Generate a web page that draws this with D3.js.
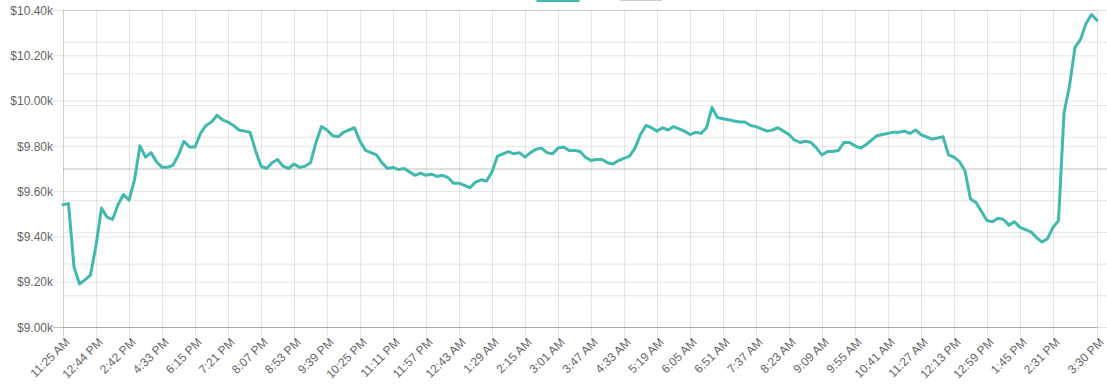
<!DOCTYPE html>
<html>
<head>
<meta charset="utf-8">
<script src="https://cdn.jsdelivr.net/npm/d3@7/dist/d3.min.js"></script>
<style>
    body { margin: 0; background: #fff; }
    #chart { width: 1107px; height: 386px; overflow: hidden; }
    #chart text { font-family: "Helvetica Neue", Helvetica, Arial, sans-serif; font-size: 12px; fill: #666; }
</style>
</head>
<body>
<div id="chart"></div>
<script>
// Visible x labels (category axis, every 6th point shown, plus the last one)
const tickLabels = [
    '11:25 AM', '12:44 PM', '2:42 PM', '4:33 PM', '6:15 PM', '7:21 PM', '8:07 PM', '8:53 PM',
    '9:39 PM', '10:25 PM', '11:11 PM', '11:57 PM', '12:43 AM', '1:29 AM', '2:15 AM', '3:01 AM',
    '3:47 AM', '4:33 AM', '5:19 AM', '6:05 AM', '6:51 AM', '7:37 AM', '8:23 AM', '9:09 AM',
    '9:55 AM', '10:41 AM', '11:27 AM', '12:13 PM', '12:59 PM', '1:45 PM', '2:31 PM', '3:30 PM'
];
const labelEvery = 6;

// Price series
const prices = [
    9540, 9545, 9265, 9190, 9208, 9230, 9360, 9525, 9485, 9475,
    9540, 9585, 9560, 9650, 9800, 9750, 9770, 9730, 9705, 9705,
    9715, 9760, 9820, 9795, 9795, 9855, 9890, 9905, 9935, 9915,
    9905, 9890, 9870, 9865, 9860, 9780, 9710, 9700, 9725, 9740,
    9710, 9700, 9720, 9705, 9710, 9725, 9815, 9885, 9870, 9845,
    9840, 9860, 9870, 9880, 9820, 9780, 9770, 9760, 9725, 9700,
    9705, 9695, 9700, 9685, 9670, 9680, 9670, 9675, 9665, 9670,
    9660, 9635, 9635, 9625, 9615, 9640, 9650, 9645, 9685, 9755,
    9765, 9775, 9765, 9770, 9750, 9770, 9785, 9790, 9770, 9765,
    9790, 9795, 9780, 9780, 9775, 9750, 9735, 9740, 9740, 9725,
    9720, 9735, 9745, 9755, 9790, 9850, 9890, 9880, 9865, 9880,
    9870, 9885, 9875, 9865, 9850, 9860, 9855, 9880, 9970, 9925,
    9920, 9915, 9910, 9905, 9905, 9890, 9885, 9875, 9865, 9870,
    9880, 9865, 9850, 9825, 9815, 9820, 9815, 9790, 9760, 9775,
    9775, 9780, 9815, 9815, 9800, 9790, 9805, 9825, 9845, 9850,
    9855, 9860, 9860, 9865, 9855, 9870, 9850, 9840, 9830, 9835,
    9840, 9760, 9750, 9730, 9690, 9565, 9550, 9510, 9470, 9465,
    9480, 9475, 9450, 9465, 9440, 9430, 9420, 9395, 9375, 9390,
    9440, 9470, 9945, 10065, 10235, 10270, 10340, 10380, 10355
];

const priceTicks = [9000, 9200, 9400, 9600, 9800, 10000, 10200, 10400];

const lineColor = 'rgb(66, 185, 174)';
const gridColor = 'rgba(0, 0, 0, 0.1)';
const zeroLineColor = 'rgba(0, 0, 0, 0.25)';

class PriceChart {
    constructor(containerId) {
        this.width = 1107;
        this.height = 386;
        this.margin = { top: 10, right: 10, bottom: 59, left: 63 };
        this.svg = d3.select(`#${containerId}`)
            .append('svg')
            .attr('width', this.width)
            .attr('height', this.height);
    }

    draw() {
        const m = this.margin;
        const plotW = this.width - m.left - m.right;
        const plotH = this.height - m.top - m.bottom;

        const x = d3.scaleLinear()
            .domain([0, prices.length - 1])
            .range([m.left, m.left + plotW]);

        const y = d3.scaleLinear()
            .domain([priceTicks[0], priceTicks[priceTicks.length - 1]])
            .range([m.top + plotH, m.top]);

        // second (hidden) axis - only its grid shows, zero line in the middle
        const y2 = d3.scaleLinear()
            .domain([-1, 1])
            .range([m.top + plotH, m.top]);

        const tickIdx = tickLabels.map((_, i) =>
            i === tickLabels.length - 1 ? prices.length - 1 : i * labelEvery);

        this.drawLegend();

        // secondary grid, reaches past the right edge like tick marks
        const g2 = this.svg.append('g')
            .attr('transform', `translate(${this.width},0)`)
            .call(d3.axisLeft(y2).ticks(10).tickSizeInner(this.width - m.left).tickSizeOuter(0).tickFormat(''));
        g2.select('.domain').remove();
        g2.selectAll('.tick line')
            .attr('stroke', d => Math.abs(d) < 1e-9 ? zeroLineColor : gridColor);

        // x grid + tick marks below the axis
        const gx = this.svg.append('g')
            .attr('transform', `translate(0,${m.top + plotH})`)
            .call(d3.axisBottom(x).tickValues(tickIdx).tickSizeInner(-plotH).tickSizeOuter(0).tickFormat(''));
        gx.select('.domain').remove();
        gx.selectAll('.tick line')
            .attr('y2', 10)
            .attr('y1', -plotH)
            .attr('stroke', (d, i) => i === 0 ? 'rgba(0,0,0,0.18)' : gridColor);

        // primary y grid + labels
        const gy = this.svg.append('g')
            .attr('transform', `translate(${m.left},0)`)
            .call(d3.axisLeft(y).tickValues(priceTicks).tickSizeInner(10).tickSizeOuter(0).tickPadding(0)
                .tickFormat(d => '$' + (d / 1000).toFixed(2) + 'k'));
        gy.select('.domain').remove();
        gy.selectAll('.tick line')
            .attr('x2', plotW)
            .attr('x1', -10)
            .attr('stroke', (d, i) => i === 0 ? zeroLineColor : gridColor);
        gy.selectAll('.tick text')
            .attr('x', -10)
            .attr('dy', '0.35em');

        // x labels, rotated
        const gl = this.svg.append('g')
            .attr('transform', `translate(0,${m.top + plotH})`)
            .call(d3.axisBottom(x).tickValues(tickIdx).tickSize(0).tickFormat((d, i) => tickLabels[i]));
        gl.select('.domain').remove();
        gl.selectAll('.tick text')
            .attr('x', 0)
            .attr('y', 0)
            .attr('dy', '0.35em')
            .attr('text-anchor', 'end')
            .attr('transform', 'translate(4,13) rotate(-45)');

        // price line
        const line = d3.line()
            .x((d, i) => x(i))
            .y(d => y(d))
            .curve(d3.curveLinear);

        this.svg.append('path')
            .datum(prices)
            .attr('d', line)
            .attr('fill', 'none')
            .attr('stroke', lineColor)
            .attr('stroke-width', 3)
            .attr('stroke-linejoin', 'round')
            .attr('stroke-linecap', 'round');
    }

    drawLegend() {
        // legend sits mostly above the visible area, only the box bottoms show
        const boxes = [
            { x: 538, stroke: lineColor, fill: 'rgba(75,192,192,0.2)', sw: 3, bottom: 0.5 },
            { x: 621, stroke: '#cfcfcf', fill: 'rgba(200,200,200,0.2)', sw: 2, bottom: 0 }
        ];
        this.svg.append('g')
            .selectAll('rect')
            .data(boxes)
            .enter()
            .append('rect')
            .attr('x', d => d.x)
            .attr('y', d => d.bottom - 12)
            .attr('width', 40)
            .attr('height', 12)
            .attr('fill', d => d.fill)
            .attr('stroke', d => d.stroke)
            .attr('stroke-width', d => d.sw);
    }
}

new PriceChart('chart').draw();
</script>
</body>
</html>
